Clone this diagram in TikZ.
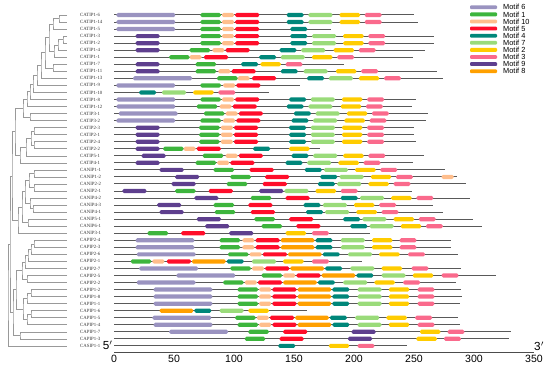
\documentclass[tikz,border=0pt]{standalone}
\usepackage{fontspec}
\setmainfont{Liberation Serif}
\setsansfont{Liberation Sans}
\usetikzlibrary{calc}
\definecolor{mot1}{HTML}{3DB53D}
\definecolor{mot2}{HTML}{FFCC00}
\definecolor{mot3}{HTML}{FA6A8C}
\definecolor{mot4}{HTML}{00877A}
\definecolor{mot5}{HTML}{FF0D2A}
\definecolor{mot6}{HTML}{9A93C0}
\definecolor{mot7}{HTML}{9ADB7A}
\definecolor{mot8}{HTML}{FFA000}
\definecolor{mot9}{HTML}{5E3F8E}
\definecolor{mot10}{HTML}{FFBE8C}
\tikzset{
  bb/.style={draw=black!65, line width=0.3mm},
  tree/.style={draw=black!40, line width=0.17mm},
  gname/.style={font=\fontsize{4.1}{4.5}\selectfont, text=black!80, anchor=west, inner sep=0pt},
  lgd/.style={font=\sffamily\fontsize{6.3}{7}\selectfont, anchor=west, inner sep=0pt},
  tick/.style={font=\sffamily\fontsize{9}{10}\selectfont, anchor=north, inner sep=0pt},
  ends/.style={font=\sffamily\fontsize{10}{11}\selectfont, inner sep=0pt}
}
% motif: row, start, motif number
\newcommand{\mot}[3]{%
  \pgfmathsetmacro{\mw}{{0,17,17,14,14,20,49,20,28,20,10}[#3]}
  \fill[mot#3, rounded corners=0.45mm] (#2,#1-0.3) rectangle ++(\mw,0.6);}
% gene: row, length, motifs
\newcommand{\gene}[3]{%
  \draw[bb] (0,#1) -- (#2,#1);
  \foreach \s/\m in {#3} {\mot{#1}{\s}{\m}}}
% tree join: parent, child, child
\newcommand{\join}[3]{\draw[tree] (#2) -| (#1) |- (#3);}

\begin{document}
\begin{tikzpicture}[x=0.3mm, y=-0.3mm]
\useasboundingbox (0,0) rectangle (550,368);

% tree and names
\begin{scope}[shift={(0,7.96)}, y=-2.112mm]
\foreach \n [count=\i] in {CATIP1-6,CATIP1-14,CATIP1-5,CATIP1-3,CATIP1-2,CATIP1-4,CATIP1-1,
  CATIP1-7,CATIP1-11,CATIP1-13,CATIP1-9,CATIP1-10,CATIP1-8,CATIP1-12,CATIP3-1,CATIP3-2,
  CATIP2-3,CATIP2-1,CATIP2-4,CATIP2-2,CATIP5-1,CATIP4-1,CANIP1-1,CANIP1-2,CANIP2-2,CANIP2-1,
  CANIP4-2,CANIP4-3,CANIP4-1,CANIP5-1,CANIP6-1,CANIP3-1,CAPIP2-4,CAPIP2-3,CAPIP2-6,CAPIP2-1,
  CAPIP2-7,CAPIP2-5,CAPIP2-2,CAPIP1-2,CAPIP1-8,CAPIP1-1,CAPIP1-6,CAPIP1-5,CAPIP1-4,CAPIP1-7,
  CAPIP1-3,CASIP1-1} {
  \coordinate (l\i) at (67,\i);
  \node[gname] (g\i) at (80,\i) {\n};
}
\coordinate (t1) at (59,1.5);   \join{t1}{l1}{l2}
\coordinate (t2) at (53,2.25);  \join{t2}{t1}{l3}
\coordinate (t3) at (63,4.5);   \join{t3}{l4}{l5}
\coordinate (t4) at (58,5.25);  \join{t4}{t3}{l6}
\coordinate (t5) at (54,6.13);  \join{t5}{t4}{l7}
\coordinate (t6) at (49,4.19);  \join{t6}{t2}{t5}
\coordinate (t7) at (53,8.5);   \join{t7}{l8}{l9}
\coordinate (t8) at (45,6.34);  \join{t8}{t6}{t7}
\coordinate (t9) at (41,8.17);  \join{t9}{t8}{l10}
\coordinate (t10) at (37,9.59); \join{t10}{t9}{l11}
\coordinate (t11) at (33,10.8); \join{t11}{t10}{l12}
\coordinate (t12) at (30,11.9); \join{t12}{t11}{l13}
\coordinate (t13) at (27,12.95);\join{t13}{t12}{l14}
\coordinate (t14) at (30,15.5); \join{t14}{l15}{l16}
\coordinate (t15) at (23,14.2); \join{t15}{t13}{t14}
\coordinate (t16) at (34,17.5); \join{t16}{l17}{l18}
\coordinate (t17) at (34,19.5); \join{t17}{l19}{l20}
\coordinate (t18) at (31,18.5); \join{t18}{t16}{t17}
\coordinate (t19) at (26,19.75);\join{t19}{t18}{l21}
\coordinate (t20) at (20,20.9); \join{t20}{t19}{l22}
\coordinate (t21) at (15,17.55);\join{t21}{t15}{t20}
\coordinate (t22) at (34,23.5); \join{t22}{l23}{l24}
\coordinate (t23) at (34,25.5); \join{t23}{l25}{l26}
\coordinate (t24) at (29,24.5); \join{t24}{t22}{t23}
\coordinate (t25) at (33,28.5); \join{t25}{l28}{l29}
\coordinate (t26) at (30,27.75);\join{t26}{l27}{t25}
\coordinate (t27) at (25,26.1); \join{t27}{t24}{t26}
\coordinate (t28) at (28,30.5); \join{t28}{l30}{l31}
\coordinate (t29) at (22,28.3); \join{t29}{t27}{t28}
\coordinate (t30) at (18,30.15);\join{t30}{t29}{l32}
\coordinate (t31) at (12,23.85);\join{t31}{t21}{t30}
\coordinate (t32) at (34,33.5); \join{t32}{l33}{l34}
\coordinate (t33) at (31,34.25);\join{t33}{t32}{l35}
\coordinate (t34) at (28,35.1); \join{t34}{t33}{l36}
\coordinate (t35) at (25,36.06);\join{t35}{t34}{l37}
\coordinate (t36) at (27,38.5); \join{t36}{l38}{l39}
\coordinate (t37) at (22,37.3); \join{t37}{t35}{t36}
\coordinate (t38) at (31,40.5); \join{t38}{l40}{l41}
\coordinate (t39) at (27,41.25);\join{t39}{t38}{l42}
\coordinate (t40) at (31,43.5); \join{t40}{l43}{l44}
\coordinate (t41) at (27,44.25);\join{t41}{t40}{l45}
\coordinate (t42) at (23,42.75);\join{t42}{t39}{t41}
\coordinate (t43) at (16,40.0); \join{t43}{t37}{t42}
\coordinate (t44) at (20,46.5); \join{t44}{l46}{l47}
\coordinate (t45) at (13,43.25);\join{t45}{t43}{t44}
\coordinate (t46) at (10,33.55);\join{t46}{t31}{t45}
\coordinate (t47) at (8,40.8);  \join{t47}{t46}{l48}
\end{scope}

% motifs
\begin{scope}[shift={(114,7.96)}, x=0.36mm, y=-2.112mm]
\gene{1}{250}{2/6,72/1,90/10,101/5,144/4,162/7,188/2,209/3}
\gene{2}{253}{2/6,72/1,90/10,101/5,144/4,162/7,188/2,209/3}
\gene{3}{181}{2/6,72/1,90/10,101/5,147/4}
\gene{4}{267}{18/9,72/1,90/10,101/5,147/4,165/7,191/2,212/3}
\gene{5}{267}{18/9,72/1,90/10,101/5,147/4,165/7,191/2,212/3}
\gene{6}{259}{18/9,63/1,82/10,93/5,138/4,156/7,183/2,204/3}
\gene{7}{249}{46/1,63/10,75/5,121/4,139/7,165/2,186/3}
\gene{8}{192}{18/9,68/1,106/4,122/2,143/3}
\gene{9}{269}{18/9,68/1,87/10,98/5,139/4,158/7,185/2,206/3}
\gene{10}{274}{16/6,86/1,103/10,115/5,161/4,179/7,204/2,225/3}
\gene{11}{155}{2/6,72/1,91/10,102/5}
\gene{12}{129}{21/4,40/7,66/2,87/3}
\gene{13}{252}{2/6,72/1,90/10,101/5,146/4,164/7,190/2,211/3}
\gene{14}{248}{2/6,69/1,88/10,99/5,144/4,162/7,189/2,210/3}
\gene{15}{262}{4/6,75/1,93/10,104/5,150/4,168/7,194/2,215/3}
\gene{16}{260}{2/6,72/1,91/10,102/5,148/4,166/7,192/2,213/3}
\gene{17}{250}{18/9,71/1,89/10,100/5,146/4,164/7,190/2,211/3}
\gene{18}{250}{18/9,71/1,89/10,100/5,146/4,164/7,190/2,211/3}
\gene{19}{252}{18/9,71/1,89/10,100/5,146/4,164/7,190/2,211/3}
\gene{20}{172}{18/9,41/1,58/10,69/5,116/4,146/2}
\gene{21}{258}{23/9,74/1,93/10,104/5,148/4,166/7,191/2,212/3}
\gene{22}{249}{18/9,68/1,86/10,97/5,143/4,161/7,187/2,208/3}
\gene{23}{276}{38/9,83/1,113/5,159/4,175/7,201/2,222/3}
\gene{24}{286}{51/9,97/1,126/5,172/4,188/7,214/2,235/3,273/10}
\gene{25}{293}{48/9,94/1,124/5,170/4,186/7,212/2,233/3}
\gene{26}{248}{7/9,51/1,79/5,121/9,142/7,168/2,189/3}
\gene{27}{297}{67/9,114/1,143/5,189/4,205/7,231/2,252/3}
\gene{28}{266}{36/9,83/1,112/5,158/4,174/7,200/2,221/3}
\gene{29}{274}{38/9,84/1,114/5,160/4,176/7,202/2,223/3}
\gene{30}{299}{69/9,117/1,146/5,191/4,207/7,233/2,254/3}
\gene{31}{307}{76/9,123/1,152/5,197/4,213/7,239/2,260/3}
\gene{32}{213}{28/1,56/5,96/9,143/2,165/3}
\gene{33}{281}{18/6,88/1,107/10,118/5,139/8,168/4,189/7,215/2,238/3}
\gene{34}{281}{18/6,88/1,107/10,118/5,139/8,168/4,189/7,215/2,238/3}
\gene{35}{287}{19/6,95/1,113/10,124/5,145/8,174/4,195/7,221/2,245/3}
\gene{36}{207}{14/1,32/10,44/5,65/8,94/4,115/7,141/2,165/3}
\gene{37}{289}{21/6,97/1,115/10,126/5,147/8,176/4,197/7,223/2,248/3}
\gene{38}{318}{52/6,123/1,141/10,152/5,173/8,202/4,223/7,249/2,273/3}
\gene{39}{285}{19/6,91/1,109/10,120/5,141/8,170/4,191/7,217/2,241/3}
\gene{40}{289}{33/6,103/1,121/10,132/5,153/8,182/4,203/7,229/2,253/3}
\gene{41}{290}{33/6,103/1,121/10,132/5,153/8,182/4,203/7,229/2,253/3}
\gene{42}{288}{33/6,103/1,121/10,132/5,153/8,182/4,203/7,229/2,253/3}
\gene{43}{161}{38/8,67/4,88/7,112/2}
\gene{44}{287}{32/6,101/1,119/10,130/5,151/8,180/4,201/7,227/2,251/3}
\gene{45}{288}{33/6,103/1,121/10,132/5,153/8,182/4,203/7,229/2,253/3}
\gene{46}{331}{46/6,112/1,141/5,198/9,255/2,278/3}
\gene{47}{329}{109/1,138/5,195/9,252/2,275/3}
\gene{48}{244}{137/4,179/2,203/3}
% scale
\coordinate (a0) at (0,48.87);
\coordinate (a1) at (350,48.87);
\draw[bb, draw=black!70] (a0) -- (a1);
\foreach \t in {0,50,...,350}
  \node[tick] (k\t) at (\t,49.25) {\t};
\node[ends, anchor=south east] (p5) at ($(a0)+(-1,-0.25)$) {5$'$};
\node[ends, anchor=south west] (p3) at ($(a1)+(0,-0.15)$) {3$'$};
\end{scope}

% legend
\foreach \c/\t [count=\k] in {6/Motif 6,1/Motif 1,10/Motif 10,5/Motif 5,4/Motif 4,
  7/Motif 7,2/Motif 2,3/Motif 3,9/Motif 9,8/Motif 8} {
  \fill[mot\c, rounded corners=0.3mm] (470,{7.3+7.1*(\k-1)-1.9}) rectangle ++(27,3.8);
  \node[lgd] (lg\k) at (503,{7.3+7.1*(\k-1)}) {\t};
}
\end{tikzpicture}
\end{document}
